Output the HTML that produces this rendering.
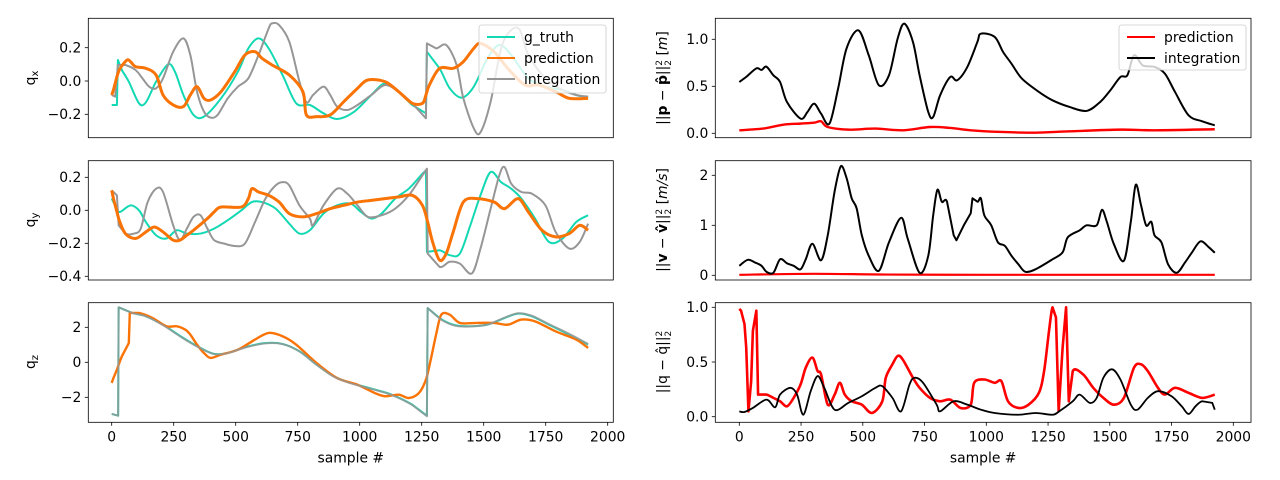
<!DOCTYPE html>
<html><head><meta charset="utf-8"><style>
html,body{margin:0;padding:0;background:#fff;}
svg{display:block;font-family:"DejaVu Sans","Liberation Sans",sans-serif;}
</style></head><body>
<svg id="fig" width="1280" height="480" viewBox="0 0 1280 480" xmlns="http://www.w3.org/2000/svg"></svg>
<script>
// ---- data (sample index, value) ----
const gtQxS=[0,21,25,41,69,110,138,179,227,255,289,330,372,441,509,551,592,633,689,744,799,854,909,978,1047,1102,1157,1212,1267,1271,1322,1363,1411,1460,1515,1563,1611,1680,1749,1818,1873,1921];
const gtQxV=[-0.144,-0.144,0.126,0.066,-0.004,-0.134,-0.128,-0.004,0.10,0.056,-0.084,-0.204,-0.214,-0.104,0.056,0.196,0.256,0.196,0.036,-0.134,-0.144,-0.194,-0.228,-0.184,-0.084,-0.014,-0.064,-0.144,-0.194,0.176,0.076,-0.044,-0.10,-0.034,0.136,0.216,0.156,0.016,-0.034,-0.054,-0.084,-0.10];
const prQxS=[0,7,21,34,62,76,96,138,179,207,248,289,317,344,372,399,441,496,537,578,606,647,716,771,785,826,881,936,991,1033,1102,1157,1212,1253,1267,1281,1322,1377,1418,1460,1487,1542,1597,1666,1721,1790,1845,1921];
const prQxV=[-0.084,-0.054,0.026,0.076,0.126,0.116,0.086,0.076,0.036,-0.084,-0.144,-0.154,-0.084,-0.034,-0.104,-0.114,-0.064,0.056,0.156,0.176,0.136,0.096,0.036,-0.064,-0.204,-0.214,-0.204,-0.124,-0.044,0.006,-0.004,-0.064,-0.134,-0.134,-0.084,-0.024,0.076,0.076,0.116,0.196,0.226,0.176,0.076,-0.024,-0.024,-0.064,-0.104,-0.104];
const inQxS=[0,14,25,55,96,124,151,179,207,248,289,317,344,372,399,427,468,509,551,592,633,647,675,716,757,785,812,854,881,909,950,991,1047,1102,1157,1212,1267,1271,1308,1349,1391,1418,1460,1487,1528,1570,1611,1646,1680,1749,1818,1873,1921];
const inQxV=[-0.084,-0.094,0.096,0.096,0.066,0.016,-0.034,-0.044,0.016,0.176,0.256,0.156,-0.064,-0.184,-0.22,-0.204,-0.104,-0.034,0.016,0.156,0.316,0.346,0.336,0.236,-0.004,-0.128,-0.084,-0.034,-0.084,-0.154,-0.174,-0.144,-0.084,-0.024,-0.064,-0.134,-0.224,0.226,0.196,0.216,0.096,-0.104,-0.284,-0.308,-0.124,0.196,0.306,0.306,0.156,0.016,-0.054,-0.084,-0.094];

const gtQyS=[0,21,34,76,110,138,179,220,262,303,358,413,468,523,565,606,661,716,757,799,854,909,964,1005,1047,1088,1143,1198,1253,1267,1271,1322,1363,1404,1446,1487,1528,1570,1611,1652,1707,1763,1818,1873,1921];
const gtQyV=[0.071,0.010,-0.010,0.030,0.000,-0.071,-0.151,-0.171,-0.121,-0.141,-0.141,-0.111,-0.060,0.000,0.050,0.050,0.010,-0.081,-0.141,-0.121,-0.020,0.030,0.040,-0.010,-0.050,-0.020,0.071,0.131,0.222,0.242,-0.252,-0.242,-0.272,-0.262,-0.091,0.091,0.232,0.171,0.131,0.071,-0.050,-0.192,-0.171,-0.071,-0.030];
const prQyS=[0,7,28,55,96,138,172,207,248,275,303,330,386,413,441,523,551,565,592,633,675,716,771,826,881,936,991,1047,1102,1157,1212,1253,1274,1294,1322,1349,1377,1418,1473,1542,1584,1639,1680,1735,1790,1845,1887,1921];
const prQyV=[0.121,0.071,-0.050,-0.141,-0.171,-0.131,-0.101,-0.131,-0.181,-0.181,-0.151,-0.121,-0.050,-0.010,0.020,0.020,0.071,0.131,0.111,0.091,0.050,-0.020,-0.040,-0.020,0.010,0.030,0.050,0.060,0.071,0.081,0.091,0.030,-0.071,-0.192,-0.302,-0.262,-0.131,0.050,0.071,0.050,0.010,0.071,-0.010,-0.121,-0.161,-0.141,-0.091,-0.121];
const inQyS=[0,21,28,55,90,117,145,179,207,248,275,303,330,358,386,413,454,496,537,578,620,661,689,716,757,799,812,854,909,950,991,1033,1088,1143,1198,1253,1271,1274,1322,1363,1404,1452,1487,1528,1563,1584,1611,1652,1694,1749,1790,1845,1887,1921];
const inQyV=[0.121,0.091,-0.091,-0.141,-0.141,-0.111,0.050,0.131,0.111,-0.091,-0.181,-0.111,-0.040,-0.030,-0.111,-0.181,-0.202,-0.216,-0.202,-0.071,0.071,0.151,0.171,0.151,0.030,-0.050,-0.091,0.030,0.131,0.101,0.030,-0.040,-0.030,0.010,0.091,0.212,0.252,-0.262,-0.343,-0.312,-0.323,-0.383,-0.232,0.010,0.212,0.262,0.161,0.111,0.101,0.030,-0.131,-0.232,-0.192,-0.081];

const gtQzS=[0,26,28,83,138,207,289,358,413,468,537,620,689,757,826,895,964,1047,1129,1212,1271,1274,1322,1377,1432,1515,1584,1639,1694,1763,1845,1921];
const gtQzV=[-2.95,-3.05,3.14,2.82,2.63,2.15,1.39,0.82,0.48,0.53,0.86,1.10,1.05,0.63,-0.13,-0.80,-1.18,-1.50,-1.85,-2.42,-3.05,3.10,2.53,2.15,2.06,2.15,2.53,2.78,2.63,2.15,1.58,1.01];
const inQzS=[0,26,28,83,138,207,289,358,413,468,537,620,689,757,826,895,964,1047,1129,1212,1271,1274,1322,1377,1432,1515,1584,1639,1694,1763,1845,1921];
const inQzV=[-2.95,-3.05,3.14,2.82,2.63,2.12,1.36,0.80,0.47,0.52,0.84,1.08,1.04,0.62,-0.14,-0.82,-1.20,-1.52,-1.87,-2.44,-3.08,3.10,2.50,2.12,2.04,2.16,2.55,2.80,2.66,2.18,1.62,1.05];
const prQzS=[0,7,21,41,69,73,110,165,220,262,296,317,344,372,399,441,509,578,633,689,744,826,909,991,1060,1102,1157,1198,1239,1267,1288,1308,1329,1363,1404,1473,1542,1597,1652,1707,1790,1873,1921];
const prQzV=[-1.18,-0.90,-0.42,0.34,1.10,2.82,2.82,2.53,2.06,2.06,1.87,1.58,1.01,0.53,0.25,0.44,0.72,1.30,1.68,1.49,1.01,-0.04,-0.90,-1.28,-1.75,-1.94,-1.85,-2.04,-1.75,-0.99,0.25,1.58,2.72,2.72,2.25,2.25,2.25,2.15,2.44,2.34,1.77,1.30,0.82];

const inPS=[0,28,69,90,110,138,165,193,248,276,303,331,365,400,434,482,524,565,606,641,668,703,730,765,785,813,854,882,923,964,978,1034,1068,1102,1144,1213,1268,1337,1406,1461,1502,1543,1571,1598,1633,1681,1723,1764,1819,1874,1925];
const inPV=[0.546,0.600,0.691,0.674,0.709,0.617,0.546,0.333,0.156,0.227,0.316,0.209,0.103,0.475,0.901,1.096,0.830,0.511,0.617,1.007,1.167,0.972,0.617,0.227,0.174,0.404,0.599,0.564,0.705,0.972,1.060,1.025,0.865,0.741,0.582,0.440,0.351,0.280,0.238,0.333,0.457,0.599,0.617,0.830,0.723,0.706,0.635,0.440,0.191,0.128,0.085];
const prPS=[0,96,179,248,303,331,358,441,551,661,772,854,937,1061,1199,1337,1543,1681,1925];
const prPV=[0.032,0.050,0.092,0.103,0.113,0.128,0.067,0.039,0.050,0.032,0.067,0.057,0.032,0.014,0.007,0.021,0.039,0.032,0.043];

const inVS=[0,34,62,90,110,138,165,193,220,248,269,296,331,358,386,411,434,455,475,496,524,565,606,655,682,730,765,785,802,820,841,868,879,909,937,944,965,978,992,1020,1047,1075,1102,1130,1158,1199,1268,1309,1330,1378,1406,1447,1468,1488,1516,1557,1585,1605,1626,1647,1668,1681,1709,1736,1771,1805,1833,1867,1901,1925];
const inVV=[0.19,0.31,0.26,0.19,0.07,0.05,0.32,0.24,0.19,0.12,0.32,0.63,0.30,0.80,1.68,2.18,1.95,1.54,1.34,0.80,0.39,0.09,0.66,1.15,0.73,0.05,0.39,1.20,1.71,1.47,1.47,0.80,0.70,1.00,1.24,1.54,1.47,1.54,1.20,1.00,0.66,0.59,0.39,0.22,0.07,0.12,0.32,0.46,0.76,0.90,1.00,1.00,1.31,1.07,0.63,0.29,1.07,1.81,1.41,1.00,1.07,0.80,0.66,0.22,0.05,0.26,0.46,0.68,0.56,0.45];
const prVS=[0,300,600,1000,1400,1925];
const prVV=[0.01,0.03,0.015,0.01,0.01,0.01];

const prRS=[0,7,21,28,37,48,55,69,76,110,138,165,193,220,248,269,296,317,331,358,386,407,427,455,496,537,579,593,620,641,661,703,730,772,813,854,896,937,951,992,1034,1061,1088,1130,1171,1213,1234,1254,1268,1282,1293,1309,1323,1334,1350,1392,1433,1474,1516,1557,1598,1626,1654,1695,1723,1764,1819,1874,1925];
const prRV=[0.985,0.969,0.847,0.632,0.049,0.325,0.785,0.969,0.202,0.202,0.172,0.141,0.095,0.172,0.294,0.448,0.540,0.417,0.387,0.110,0.202,0.310,0.202,0.141,0.110,0.034,0.141,0.356,0.479,0.555,0.525,0.356,0.264,0.172,0.141,0.156,0.080,0.110,0.310,0.340,0.310,0.325,0.141,0.080,0.110,0.218,0.417,0.785,1.000,0.908,0.049,0.632,1.000,0.141,0.417,0.387,0.264,0.172,0.110,0.172,0.448,0.479,0.417,0.264,0.202,0.264,0.218,0.172,0.202];
const inRS=[0,21,55,110,145,165,207,234,259,289,317,344,386,441,496,551,579,620,655,689,710,744,799,813,868,923,978,1034,1130,1199,1268,1295,1350,1378,1419,1447,1474,1509,1543,1585,1612,1654,1695,1750,1791,1819,1847,1874,1915,1925];
const inRV=[0.049,0.043,0.080,0.156,0.086,0.202,0.264,0.202,0.018,0.233,0.371,0.264,0.064,0.126,0.187,0.264,0.279,0.172,0.049,0.294,0.356,0.310,0.110,0.049,0.141,0.110,0.064,0.034,0.018,0.034,0.018,0.049,0.141,0.202,0.126,0.172,0.356,0.433,0.340,0.110,0.064,0.172,0.233,0.187,0.095,0.025,0.095,0.141,0.126,0.064];

const xTicks=[0,250,500,750,1000,1250,1500,1750,2000];
const xTickLabels=["0","250","500","750","1000","1250","1500","1750","2000"];
const yTicksL1=[-0.2,0.0,0.2], yLabL1=["\u22120.2","0.0","0.2"];
const yTicksL2=[-0.4,-0.2,0.0,0.2], yLabL2=["\u22120.4","\u22120.2","0.0","0.2"];
const yTicksL3=[-2,0,2], yLabL3=["\u22122","0","2"];
const yTicksR1=[0,0.5,1.0], yLabR1=["0.0","0.5","1.0"];
const yTicksR2=[0,1,2], yLabR2=["0","1","2"];
const yTicksR3=[0,0.5,1.0], yLabR3=["0.0","0.5","1.0"];

// ---- rendering ----
const NS="http://www.w3.org/2000/svg";
const fig=document.getElementById('fig');
function mk(tag,attrs,parent){const e=document.createElementNS(NS,tag);for(const k in attrs)e.setAttribute(k,attrs[k]);(parent||fig).appendChild(e);return e;}

const panels={
 L1:{x0:88.3,x1:613.3,y0:18.3,y1:137.7,sx0:111.7,sk:0.248,vy0:81,vk:-166.5},
 L2:{x0:88.3,x1:613.3,y0:160.7,y1:280,sx0:111.7,sk:0.248,vy0:210.3,vk:-165},
 L3:{x0:88.3,x1:613.3,y0:302.7,y1:422.3,sx0:111.7,sk:0.248,vy0:362.3,vk:-17.5},
 R1:{x0:715.3,x1:1251,y0:18.3,y1:137.7,sx0:739.3,sk:0.247,vy0:133.3,vk:-94},
 R2:{x0:715.3,x1:1251,y0:160.7,y1:280,sx0:739.3,sk:0.247,vy0:275.3,vk:-50},
 R3:{x0:715.3,x1:1251,y0:302.7,y1:422.3,sx0:739.3,sk:0.247,vy0:416.7,vk:-109.4}
};
function xs(p,s){return p.sx0+s*p.sk;}
function ys(p,v){return p.vy0+v*p.vk;}

function drawPanel(key,name,yt,yl,showX){
  const p=panels[key];
  const g=mk('g',{});
  
  
  const clip=mk('clipPath',{id:'clip'+key},g);
  mk('rect',{x:p.x0,y:p.y0,width:p.x1-p.x0,height:p.y1-p.y0},clip);
  yt.forEach((v,i)=>{
    const y=ys(p,v);
    const t=mk('line',{x1:p.x0-3.5,x2:p.x0,y1:y,y2:y,stroke:'#000','stroke-width':0.8},g);
    
    
    const lb=mk('text',{x:p.x0-7,y:y+4.8,'text-anchor':'end','font-size':'13.9px',fill:'#000'},g);
    lb.textContent=yl[i];
    
    
  });
  if(showX){
    xTicks.forEach((s,i)=>{
      const x=xs(p,s);
      const t=mk('line',{x1:x,x2:x,y1:p.y1,y2:p.y1+3.5,stroke:'#000','stroke-width':0.8},g);
      
      
      const lb=mk('text',{x:x,y:p.y1+19,'text-anchor':'middle','font-size':'13.9px',fill:'#000'},g);
      lb.textContent=xTickLabels[i];
      
      
    });
    const xl=mk('text',{x:(p.x0+p.x1)/2,y:p.y1+40,'text-anchor':'middle','font-size':'13.9px',fill:'#000'},g);
    xl.textContent='sample #';
    
    
  }
  return {g,p,key};
}
// smooth path (Catmull-Rom), straight near discontinuities
function series(ax,S,V,color,w,name,op){
  const p=ax.p;
  const P=S.map((s,i)=>[xs(p,s),ys(p,V[i])]);
  const n=P.length;
  const sharp=i=>(i>0&&i<n&&(P[i][0]-P[i-1][0])<3);
  let d='M'+P[0][0].toFixed(2)+' '+P[0][1].toFixed(2);
  for(let i=1;i<n;i++){
    if(sharp(i)||sharp(i-1)||sharp(i+1)){d+='L'+P[i][0].toFixed(2)+' '+P[i][1].toFixed(2);continue;}
    const p0=P[Math.max(0,i-2)],p1=P[i-1],p2=P[i],p3=P[Math.min(n-1,i+1)];
    const t=0.16;
    const c1=[p1[0]+(p2[0]-p0[0])*t,p1[1]+(p2[1]-p0[1])*t];
    const c2=[p2[0]-(p3[0]-p1[0])*t,p2[1]-(p3[1]-p1[1])*t];
    d+='C'+c1[0].toFixed(2)+' '+c1[1].toFixed(2)+' '+c2[0].toFixed(2)+' '+c2[1].toFixed(2)+' '+p2[0].toFixed(2)+' '+p2[1].toFixed(2);
  }
  const path=mk('path',{d:d,fill:'none',stroke:color,'stroke-width':w,'stroke-linejoin':'round','clip-path':'url(#clip'+ax.key+')',opacity:op||1},ax.g);
  
  
}
function frame(ax){
  const p=ax.p;
  const r=mk('rect',{x:p.x0,y:p.y0,width:p.x1-p.x0,height:p.y1-p.y0,fill:'none',stroke:'#000','stroke-width':0.8},ax.g);
  
  
}
function legend(ax,bx,by,bw,bh,items){
  const lg=mk('g',{},ax.g);
  
  
  mk('rect',{x:bx,y:by,width:bw,height:bh,rx:2.5,fill:'#fff','fill-opacity':0.8,stroke:'#ccc','stroke-width':0.8},lg);
  items.forEach((it,i)=>{
    const y=by+12+i*21;
    const e=mk('g',{},lg);
    
    
    mk('line',{x1:bx+8,x2:bx+36,y1:y,y2:y,stroke:it[1],'stroke-width':2},e);
    const t=mk('text',{x:bx+45,y:y+5,'font-size':'13.9px',fill:'#000'},e);
    t.textContent=it[0];
  });
}

const TEAL='#12d8b3', ORANGE='#f97306', GRAY='#969696';
const a1=drawPanel('L1','qx',yTicksL1,yLabL1,false);
series(a1,gtQxS,gtQxV,TEAL,2,'g-truth-qx-line');
series(a1,inQxS,inQxV,GRAY,2,'integration-qx-line');
series(a1,prQxS,prQxV,ORANGE,3,'prediction-qx-line');
frame(a1);
legend(a1,479,25,127,68,[['g_truth',TEAL],['prediction',ORANGE],['integration',GRAY]]);

const a2=drawPanel('L2','qy',yTicksL2,yLabL2,false);
series(a2,gtQyS,gtQyV,TEAL,2,'g-truth-qy-line');
series(a2,inQyS,inQyV,GRAY,2,'integration-qy-line');
series(a2,prQyS,prQyV,ORANGE,3,'prediction-qy-line');
frame(a2);

const a3=drawPanel('L3','qz',yTicksL3,yLabL3,true);
series(a3,gtQzS,gtQzV,TEAL,2,'g-truth-qz-line');
series(a3,prQzS,prQzV,ORANGE,2.4,'prediction-qz-line');
series(a3,inQzS,inQzV,GRAY,2,'integration-qz-line',0.8);
frame(a3);

const b1=drawPanel('R1','position-error',yTicksR1,yLabR1,false);
series(b1,prPS,prPV,'#ff0000',2.4,'prediction-position-error-line');
series(b1,inPS,inPV,'#000',2,'integration-position-error-line');
frame(b1);
legend(b1,1119,25,127,45,[['prediction','#ff0000'],['integration','#000']]);

const b2=drawPanel('R2','velocity-error',yTicksR2,yLabR2,false);
series(b2,prVS,prVV,'#ff0000',2.2,'prediction-velocity-error-line');
series(b2,inVS,inVV,'#000',2,'integration-velocity-error-line');
frame(b2);

const b3=drawPanel('R3','orientation-error',yTicksR3,yLabR3,true);
series(b3,prRS,prRV,'#ff0000',2.6,'prediction-orientation-error-line');
series(b3,inRS,inRV,'#000',1.8,'integration-orientation-error-line');
frame(b3);

// y-axis titles
function ytitle(x,y,name,html){
  const t=mk('text',{transform:'translate('+x+','+y+') rotate(-90)','text-anchor':'middle','font-size':'13.9px',fill:'#000'});
  t.innerHTML=html;
  
  
}
ytitle(35,78,'y-axis-title-qx','q<tspan font-size="10px" dy="3">x</tspan>');
ytitle(35,220,'y-axis-title-qy','q<tspan font-size="10px" dy="3">y</tspan>');
ytitle(35,362,'y-axis-title-qz','q<tspan font-size="10px" dy="3">z</tspan>');
ytitle(667,78,'y-axis-title-position-error','||<tspan font-weight="bold">p</tspan> \u2212 <tspan font-weight="bold">p\u0302</tspan>||<tspan font-size="9px" dy="-5">2</tspan><tspan font-size="9px" dx="-5.7" dy="9">2</tspan><tspan dy="-4"> [</tspan><tspan font-style="italic">m</tspan>]');
ytitle(667,220,'y-axis-title-velocity-error','||<tspan font-weight="bold">v</tspan> \u2212 <tspan font-weight="bold">v\u0302</tspan>||<tspan font-size="9px" dy="-5">2</tspan><tspan font-size="9px" dx="-5.7" dy="9">2</tspan><tspan dy="-4"> [</tspan><tspan font-style="italic">m/s</tspan>]');
ytitle(667,362,'y-axis-title-orientation-error','||q \u2212 q\u0302||<tspan font-size="9px" dy="-5">2</tspan><tspan font-size="9px" dx="-5.7" dy="9">2</tspan>');
</script>
</body></html>
